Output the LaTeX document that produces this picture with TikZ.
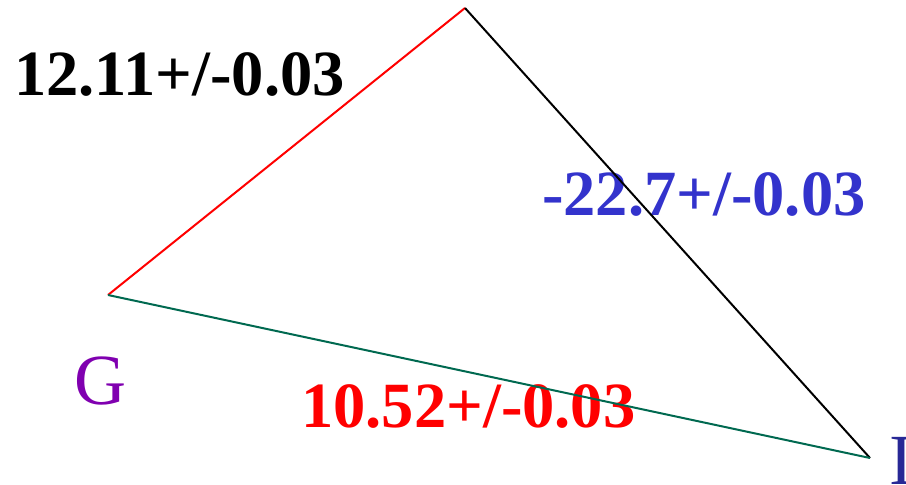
\documentclass[tikz,border=0pt]{standalone}
\usepackage{fontspec}
\setmainfont{Liberation Serif}
\usepackage{xcolor}
\usetikzlibrary{positioning}

\definecolor{valblue}{RGB}{51,51,204}
\definecolor{ptpurple}{RGB}{128,0,176}
\definecolor{ptblue}{RGB}{40,40,150}
\definecolor{sidegreen}{RGB}{0,105,80}

\begin{document}
\begin{tikzpicture}[x=1pt,y=-1pt]
\tikzset{
				vallabel/.style={
					font=\bfseries\fontsize{64.5}{64.5}\selectfont,
					anchor=base west,
					inner sep=0pt
				},
				ptlabel/.style={
					font=\fontsize{72}{72}\selectfont,
					anchor=base west,
					inner sep=0pt
				},
				side/.style={line width=2pt}
			}
			\useasboundingbox (0,0) rectangle (906,485);
			\coordinate (top) at (465,8);
			\coordinate (g) at (108,295);
			\coordinate (i) at (870,458);
			
			\node[vallabel] (gt) at (14,95) {12.11+/-0.03};
			\node[vallabel,text=valblue] (ti) at (542,215) {-22.7+/-0.03};
			\node[vallabel,text=red] (gi) at (301,427) {10.52+/-0.03};
			\node[ptlabel,text=ptpurple] (glab) at (74,404) {G};
			\node[ptlabel,text=ptblue] (ilab) at (889,484) {I};
			
			\draw[side,red] (g) -- (top);
			\draw[side,black] (top) -- (i);
			\draw[side,sidegreen] (g) -- (i);
\end{tikzpicture}
\end{document}
